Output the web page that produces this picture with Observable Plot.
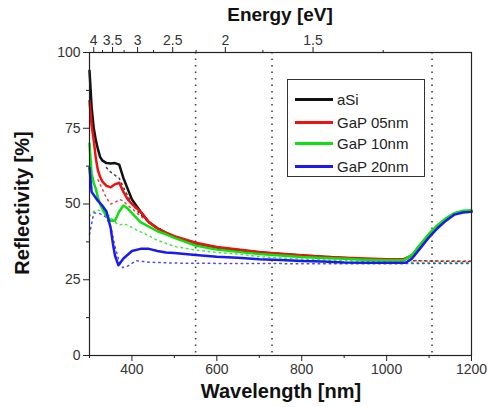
<!DOCTYPE html>
<html>
<head>
<meta charset="utf-8">
<script src="https://cdn.jsdelivr.net/npm/d3@7"></script>
<script src="https://cdn.jsdelivr.net/npm/@observablehq/plot@0.6"></script>
<style>
  body { margin: 0; background: #fff; font-family: "Liberation Sans", Arial, sans-serif; }
  #wrap { position: relative; width: 490px; height: 407px; }
  .title { position: absolute; font-weight: bold; color: #111; white-space: nowrap; }
  #legend { position: absolute; left: 287px; top: 79px; width: 138px; height: 98px; background: #fff; border: 1px solid #333; box-sizing: border-box; }
  .row { position: absolute; left: 7px; height: 20px; display: flex; align-items: center; font-size: 15px; color: #222; }
  .sw { width: 38px; height: 0; border-top: 3px solid; margin-right: 4px; }
</style>
</head>
<body>
<div id="wrap"></div>
<script>
// ---------- data ----------
const seriesNames = ["aSi", "GaP 05nm", "GaP 10nm", "GaP 20nm"];
const seriesColors = ["#111111", "#f01010", "#10e010", "#1a1af0"];

// measured (solid)
const wlASi = [300,305,310,315,320,325,330,340,350,360,370,380,390,400,420,440,460,480,500,550,600,650,700,750,800,850,900,950,1000,1040,1060,1080,1100,1120,1140,1160,1180,1200];
const rASi  = [94,82,75,71,68,65.5,64.4,63.5,63.4,63.5,63,58.5,55,51.5,47.5,44,42,40.5,39.2,37,35.6,34.8,34,33.5,33,32.6,32.2,31.8,31.6,31.6,33,36.5,39.8,42.5,45,46.8,47.5,47.6];

const wlG05 = [300,305,310,315,320,325,330,340,350,360,370,380,390,400,420,440,460,480,500,550,600,650,700,750,800,850,900,950,1000,1040,1060,1080,1100,1120,1140,1160,1180,1200];
const rG05  = [84,76,71,65,61,59,57.5,56,55.5,56.5,57,54,51.5,50,47.5,44,42,40.5,39.4,37.2,35.8,35,34.2,33.6,33.1,32.6,32.3,32,31.8,31.8,33,36.5,39.8,42.5,45,46.8,47.5,47.6];

const wlG10 = [300,305,310,315,320,325,330,340,350,360,370,380,390,400,420,440,460,480,500,550,600,650,700,750,800,850,900,950,1000,1040,1060,1080,1100,1120,1140,1160,1180,1200];
const rG10  = [70,60,57,55,52,50,48.5,46,44.5,44.5,47.5,49.5,48.5,47,44,42.5,41,40,38.8,36.3,35,34.2,33.5,33,32.5,32.2,31.9,31.6,31.4,31.4,33.2,36.8,40.2,43,45.3,47,47.8,47.9];

const wlG20 = [300,305,310,320,330,340,350,355,360,368,380,400,420,440,460,480,500,550,600,650,700,750,800,850,900,950,1000,1045,1060,1080,1100,1120,1140,1160,1180,1200];
const rG20  = [62,54,53,51,49.5,47.5,42,37,33,29.8,32,34.5,35.2,35.2,34.5,34,33.8,33.2,32.6,32.3,31.8,31.5,31.2,31,30.7,30.6,30.6,30.6,32,35.5,39,42,44.5,46.5,47.2,47.4];

// simulated (dotted)
const wlASiSim = [340,350,360,370,380,400,420,450,500,550,600,700,800,900,1000,1100,1200];
const rASiSim  = [62,60.5,59.5,58.5,55.5,50,46.5,43,39,36.8,35.5,33.8,32.8,32,31.5,31.2,31];

const wlG05Sim = [320,330,340,350,360,370,380,390,400,420,450,500,600,700,800,900,1000,1100,1200];
const rG05Sim  = [58,55,52,50,50.5,51.5,51,49.5,48.5,46,43,39.2,35.6,34,33,32.2,31.6,31.2,31.2];

const wlG10Sim = [300,310,320,330,340,350,360,370,380,390,410,440,460,500,550,600,650,700,750,800,900,1000,1100,1200];
const rG10Sim  = [46,47.5,48,47.5,47,45.5,44,43,43.5,43,41.5,39.5,38,36,34.8,34,33.5,32.6,32.2,31.8,31.3,30.9,30.7,30.7];

const wlG20Sim = [300,310,320,330,340,350,360,370,378,390,410,440,500,600,800,1000,1200];
const rG20Sim  = [40,47,47,46.5,45.5,42.5,36,31,29,29.5,31.3,30.8,30.5,30.4,30.3,30.3,30.4];

// axes
const xMajor = [400,600,800,1000,1200];
const xMinor = [300,500,700,900,1100];
const yMajor = [0,25,50,75,100];
const yMinor = [12.5,37.5,62.5,87.5];
const eMajor = [4,3.5,3,2.5,2,1.5];
const eMinor = [3.75,3.25,2.75,2.25,1.75,1.25];
const guideLines = [550,730,1107];

// ---------- build tables ----------
const solidSets = [[wlASi,rASi],[wlG05,rG05],[wlG10,rG10],[wlG20,rG20]];
const simSets = [[wlASiSim,rASiSim],[wlG05Sim,rG05Sim],[wlG10Sim,rG10Sim],[wlG20Sim,rG20Sim]];
const toRows = (sets) => sets.flatMap(([w, r], i) => w.map((x, j) => ({wl: x, r: r[j], s: seriesNames[i]})));
const solid = toRows(solidSets);
const sim = toRows(simSets);
const ev2nm = e => 1240 / e;

const chart = Plot.plot({
  width: 490, height: 407,
  marginLeft: 89, marginRight: 19, marginTop: 52, marginBottom: 52,
  style: {fontFamily: "'Liberation Sans', Arial, sans-serif", fontSize: "14px", color: "#333", background: "#fff"},
  x: {domain: [300, 1200]},
  y: {domain: [0, 100]},
  color: {domain: seriesNames, range: seriesColors},
  marks: [
    Plot.ruleX(guideLines, {stroke: "#444", strokeWidth: 1.6, strokeDasharray: "1.5,5"}),
    Plot.line(sim, {x: "wl", y: "r", z: "s", stroke: "s", strokeWidth: 1.5, strokeDasharray: "1.5,4", strokeOpacity: 0.8}),
    Plot.line(solid, {x: "wl", y: "r", z: "s", stroke: "s", strokeWidth: 2.5}),
    Plot.frame({stroke: "#222", strokeWidth: 1.2}),
    Plot.axisY({ticks: yMajor, tickSize: 6, tickPadding: 3, label: null, stroke: "#222"}),
    Plot.axisY({ticks: yMinor, tickSize: 3, tickFormat: () => "", label: null, stroke: "#222"}),
    Plot.axisX({ticks: xMajor, tickSize: 6, tickPadding: 3, tickFormat: d => String(d), label: null, stroke: "#222"}),
    Plot.axisX({ticks: xMinor, tickSize: 3, tickFormat: () => "", label: null, stroke: "#222"}),
    Plot.axisX({anchor: "top", ticks: eMajor.map(ev2nm), tickSize: 6, tickPadding: 2,
      tickFormat: d => String(Math.round(1240 / d * 100) / 100), label: null, stroke: "#222"}),
    Plot.axisX({anchor: "top", ticks: eMinor.map(ev2nm), tickSize: 3, tickFormat: () => "", label: null, stroke: "#222"})
  ]
});

const wrap = document.getElementById("wrap");
wrap.appendChild(chart);

function addTitle(text, css) {
  const d = document.createElement("div");
  d.className = "title";
  d.textContent = text;
  Object.assign(d.style, css);
  wrap.appendChild(d);
  return d;
}
addTitle("Energy [eV]", {left: "280px", top: "4px", fontSize: "19px", transform: "translateX(-50%)"});
addTitle("Wavelength [nm]", {left: "281px", top: "380px", fontSize: "20px", transform: "translateX(-50%)"});
addTitle("Reflectivity [%]", {left: "22px", top: "203px", fontSize: "20px", transform: "translate(-50%,-50%) rotate(-90deg)"});

// legend
const lg = document.createElement("div");
lg.id = "legend";
const rowTops = [9, 32, 53, 76];
seriesNames.forEach((n, i) => {
  const r = document.createElement("div");
  r.className = "row";
  r.style.top = rowTops[i] + "px";
  const sw = document.createElement("span");
  sw.className = "sw";
  sw.style.borderTopColor = seriesColors[i];
  const t = document.createElement("span");
  t.textContent = n;
  r.appendChild(sw); r.appendChild(t);
  lg.appendChild(r);
});
wrap.appendChild(lg);
</script>
</body>
</html>
